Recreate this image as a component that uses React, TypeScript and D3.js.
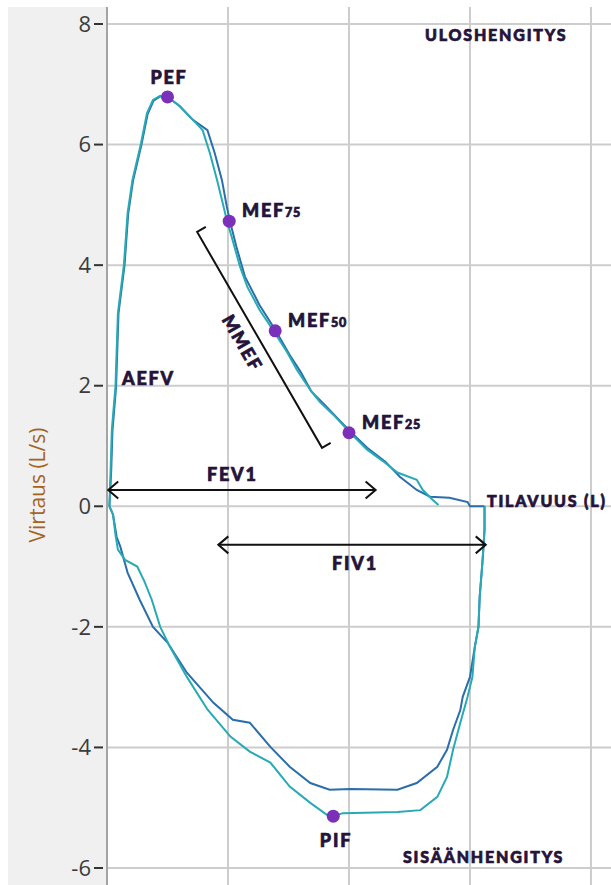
import React from 'react';
import * as d3 from 'd3';

const W = 611;
const H = 885;

const yTicks = [8, 6, 4, 2, 0, -2, -4, -6];
const xGridValues = [1, 2, 3, 4];

// [volume (L), flow (L/s)]
const tealExpiration: [number, number][] = [
  [0.02, 0.0], [0.03, 0.61], [0.04, 1.27], [0.07, 1.99], [0.09, 3.2], [0.14, 4.01],
  [0.17, 4.86], [0.21, 5.41], [0.28, 6.01], [0.33, 6.52], [0.38, 6.74], [0.44, 6.81],
  [0.5, 6.79], [0.6, 6.64], [0.71, 6.41], [0.79, 6.24], [0.85, 5.86], [0.91, 5.41],
  [0.95, 5.08], [0.99, 4.75], [1.03, 4.47], [1.1, 3.97], [1.16, 3.64], [1.26, 3.26],
  [1.37, 2.93], [1.49, 2.55], [1.57, 2.26], [1.68, 1.93], [1.76, 1.73], [1.87, 1.52],
  [2.01, 1.22], [2.15, 0.94], [2.28, 0.75], [2.4, 0.56], [2.56, 0.44], [2.61, 0.27],
  [2.69, 0.11], [2.74, 0.02],
];

const blueExpiration: [number, number][] = [
  [0.02, 0.0], [0.035, 0.6], [0.045, 1.25], [0.075, 1.98], [0.095, 3.2], [0.145, 4.0],
  [0.175, 4.85], [0.215, 5.4], [0.285, 6.0], [0.335, 6.5], [0.385, 6.73], [0.44, 6.8],
  [0.5, 6.79], [0.6, 6.64], [0.71, 6.41], [0.83, 6.24], [0.89, 5.86], [0.95, 5.41],
  [0.99, 4.97], [1.02, 4.7], [1.07, 4.3], [1.14, 3.81], [1.26, 3.34], [1.39, 2.93],
  [1.51, 2.51], [1.6, 2.23], [1.69, 1.9], [1.8, 1.68], [1.9, 1.47], [2.01, 1.24],
  [2.15, 0.97], [2.3, 0.74], [2.42, 0.49], [2.56, 0.27], [2.67, 0.16], [2.83, 0.14],
  [2.98, 0.07], [3.0, 0.0], [3.12, 0.0],
];

const tealInspiration: [number, number][] = [
  [0.02, 0.0], [0.05, -0.14], [0.07, -0.47], [0.09, -0.72], [0.15, -0.89], [0.25, -1.0],
  [0.31, -1.25], [0.37, -1.55], [0.44, -2.0], [0.52, -2.33], [0.66, -2.83], [0.83, -3.37],
  [1.02, -3.82], [1.18, -4.07], [1.35, -4.25], [1.51, -4.65], [1.68, -4.92], [1.82, -5.12],
  [1.87, -5.14], [1.95, -5.09], [2.4, -5.07], [2.59, -5.04], [2.73, -4.82], [2.81, -4.49],
  [2.86, -4.04], [2.92, -3.59], [2.98, -3.16], [3.02, -2.83], [3.04, -2.33], [3.07, -2.0],
  [3.08, -1.5], [3.1, -1.0], [3.11, -0.72], [3.12, -0.39], [3.12, 0.0],
];

const blueInspiration: [number, number][] = [
  [0.02, 0.0], [0.05, -0.14], [0.08, -0.51], [0.11, -0.67], [0.17, -1.1], [0.27, -1.55],
  [0.38, -2.0], [0.5, -2.26], [0.66, -2.76], [0.88, -3.26], [1.04, -3.54], [1.18, -3.59],
  [1.35, -3.99], [1.51, -4.32], [1.68, -4.59], [1.84, -4.7], [2.01, -4.69], [2.4, -4.7],
  [2.56, -4.59], [2.73, -4.32], [2.81, -4.04], [2.86, -3.71], [2.92, -3.38], [2.94, -3.16],
  [3.0, -2.83], [3.04, -2.33], [3.07, -2.0], [3.08, -1.5], [3.1, -1.0], [3.11, -0.72],
  [3.12, -0.39], [3.12, 0.0],
];

const markerNames = ['PEF', 'MEF75', 'MEF50', 'MEF25', 'PIF'];
const markerVolumes = [0.5, 1.01, 1.39, 2.0, 1.87];
const markerFlows = [6.79, 4.73, 2.91, 1.22, -5.14];

// annotation geometry in data units
const mmefBracket: [number, number][] = [[0.745, 4.55], [1.777, 0.97]];
const fev1Arrow: [number, number][] = [[0.01, 0.27], [2.22, 0.27]];
const fiv1Arrow: [number, number][] = [[0.92, -0.64], [3.13, -0.64]];

const TEAL = '#28aab5';
const BLUE = '#2a6eab';
const PURPLE = '#7a30b8';
const LABEL = '#25133a';
const LABEL_FONT = 'Lato, "Open Sans", sans-serif';

export default function App() {
  const x = d3.scaleLinear().domain([0, 4]).range([107, 591]);
  const y = d3.scaleLinear().domain([-6, 8]).range([868, 24]);
  const line = d3
    .line<[number, number]>()
    .x((d) => x(d[0]))
    .y((d) => y(d[1]));

  const plotLeft = 107;
  const plotTop = 7;

  const chevron = (px: number, py: number, dir: number) =>
    `M${px + dir * 10},${py - 8.5} L${px},${py} L${px + dir * 10},${py + 8.5}`;

  const [b0, b1] = mmefBracket.map((d) => [x(d[0]), y(d[1])]);
  const bdx = b1[0] - b0[0];
  const bdy = b1[1] - b0[1];
  const blen = Math.hypot(bdx, bdy);
  const ux = bdx / blen;
  const uy = bdy / blen;
  // perpendicular toward upper-right
  const px = -uy;
  const py = ux;
  const nx = px > 0 ? px : -px;
  const ny = px > 0 ? py : -py;
  const angle = (Math.atan2(bdy, bdx) * 180) / Math.PI;
  const midX = (b0[0] + b1[0]) / 2 - ux * 6;
  const midY = (b0[1] + b1[1]) / 2 - uy * 6;

  const labelStyle = {
    fontFamily: LABEL_FONT,
    fontWeight: 900,
    fill: LABEL,
    stroke: LABEL,
    strokeWidth: 0.7,
    letterSpacing: '1.8px',
  } as React.CSSProperties;

  const sub = (main: string, s: string, tx: number, ty: number) => (
    <text x={tx} y={ty} style={labelStyle} fontSize={18}>
      {main}
      <tspan fontSize={12.5} letterSpacing="0.6px">{s}</tspan>
    </text>
  );

  return (
    <svg
      width={W}
      height={H}
      style={{ position: 'absolute', left: 0, top: 0, background: '#ffffff' }}
    >
      {/* left panel */}
      <rect x={8} y={plotTop} width={plotLeft - 8} height={H - plotTop} fill="#f0f0f0" />
      <rect x={plotLeft} y={plotTop} width={W - plotLeft} height={H - plotTop} fill="#ffffff" />

      {/* grid */}
      {yTicks.map((t) => (
        <line key={'h' + t} x1={plotLeft} x2={W} y1={y(t)} y2={y(t)} stroke="#cdcdcd" strokeWidth={2} />
      ))}
      {xGridValues.map((v) => (
        <line key={'v' + v} x1={x(v)} x2={x(v)} y1={plotTop} y2={H} stroke="#cdcdcd" strokeWidth={2} />
      ))}
      <line x1={plotLeft} x2={plotLeft} y1={plotTop} y2={H} stroke="#a4a4a4" strokeWidth={2} />

      {/* y ticks */}
      {yTicks.map((t) => (
        <g key={'t' + t}>
          <line x1={94} x2={103} y1={y(t)} y2={y(t)} stroke="#333" strokeWidth={2} />
          <text
            x={91}
            y={y(t)}
            dy="0.35em"
            textAnchor="end"
            fontFamily='"Open Sans", sans-serif'
            fontSize={22}
            fill="#3c3c3c"
          >
            {t}
          </text>
        </g>
      ))}
      <text
        transform={`translate(45, 485) rotate(-90)`}
        textAnchor="middle"
        fontFamily='"Open Sans", sans-serif'
        fontSize={21}
        fill="#a3641f"
      >
        Virtaus (L/s)
      </text>

      {/* curves */}
      <path d={line(blueExpiration) || ''} fill="none" stroke={BLUE} strokeWidth={2} />
      <path d={line(blueInspiration) || ''} fill="none" stroke={BLUE} strokeWidth={2} />
      <path d={line(tealExpiration) || ''} fill="none" stroke={TEAL} strokeWidth={2} />
      <path d={line(tealInspiration) || ''} fill="none" stroke={TEAL} strokeWidth={2} />

      {/* MMEF bracket */}
      <path
        d={`M${b0[0] + nx * 10},${b0[1] + ny * 10} L${b0[0]},${b0[1]} L${b1[0]},${b1[1]} L${b1[0] + nx * 10},${b1[1] + ny * 10}`}
        fill="none"
        stroke="#111"
        strokeWidth={2}
      />
      <text
        transform={`translate(${midX - nx * 23},${midY - ny * 23}) rotate(${angle})`}
        textAnchor="middle"
        style={labelStyle}
        fontSize={18}
      >
        MMEF
      </text>

      {/* arrows */}
      {[fev1Arrow, fiv1Arrow].map((a, i) => {
        const x0 = x(a[0][0]);
        const x1 = x(a[1][0]);
        const yy = y(a[0][1]);
        return (
          <g key={'a' + i} fill="none" stroke="#111" strokeWidth={2}>
            <line x1={x0} x2={x1} y1={yy} y2={yy} />
            <path d={chevron(x0, yy, 1)} />
            <path d={chevron(x1, yy, -1)} />
          </g>
        );
      })}

      {/* markers */}
      {markerNames.map((n, i) => (
        <circle key={n} cx={x(markerVolumes[i])} cy={y(markerFlows[i])} r={6.5} fill={PURPLE} />
      ))}

      {/* labels */}
      <text x={169} y={84} textAnchor="middle" style={labelStyle} fontSize={18}>PEF</text>
      {sub('MEF', '75', 242, 217)}
      {sub('MEF', '50', 288, 327)}
      {sub('MEF', '25', 362, 429)}
      <text x={122} y={385} style={labelStyle} fontSize={18}>AEFV</text>
      <text x={207} y={481} style={labelStyle} fontSize={18}>FEV1</text>
      <text x={332} y={570} style={labelStyle} fontSize={18}>FIV1</text>
      <text x={336} y={847} textAnchor="middle" style={labelStyle} fontSize={18}>PIF</text>
      <text x={425} y={41} style={labelStyle} fontSize={16}>ULOSHENGITYS</text>
      <text x={403} y={863} style={labelStyle} fontSize={16}>SISÄÄNHENGITYS</text>
      <text x={487} y={507} style={labelStyle} fontSize={16}>TILAVUUS (L)</text>
    </svg>
  );
}
